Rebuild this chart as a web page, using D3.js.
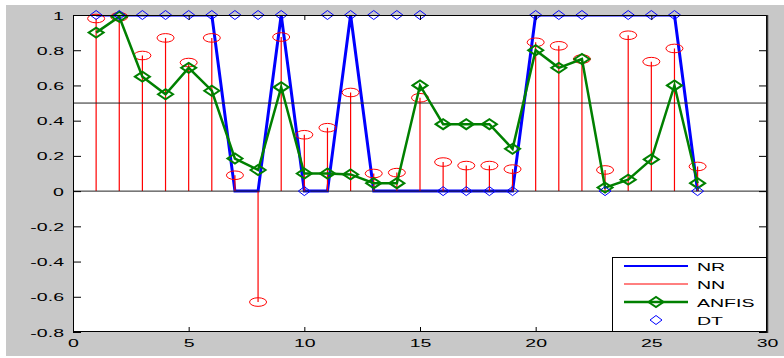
<!DOCTYPE html>
<html><head><meta charset="utf-8">
<script src="https://cdn.jsdelivr.net/npm/d3@7"></script>
<style>body{margin:0;background:#fff}svg{display:block}</style>
</head><body>
<svg id="c" width="784" height="358"></svg>
<script>
const xs    = [1,2,3,4,5,6,7,8,9,10,11,12,13,14,15,16,17,18,19,20,21,22,23,24,25,26,27];
const nr    = [1,1,1,1,1,1,0,0,1,0,0,1,0,0,0,0,0,0,0,1,1,1,1,1,1,1,0];
const nn    = [0.98,0.99,0.77,0.87,0.73,0.87,0.09,-0.63,0.875,0.32,0.36,0.56,0.10,0.105,0.53,0.165,0.145,0.145,0.125,0.845,0.825,0.75,0.12,0.885,0.735,0.81,0.14];
const anfis = [0.90,0.99,0.65,0.55,0.70,0.57,0.185,0.12,0.59,0.10,0.10,0.095,0.045,0.045,0.60,0.38,0.38,0.38,0.24,0.80,0.70,0.75,0.02,0.065,0.18,0.60,0.045];
const dt    = [1,1,1,1,1,1,1,1,1,0,1,1,1,1,1,0,0,0,0,1,1,1,0,1,1,1,0];
const xTicks = [0,5,10,15,20,25,30];
const yTicks = [-0.8,-0.6,-0.4,-0.2,0,0.2,0.4,0.6,0.8,1];
const yTickLabels = ["-0.8","-0.6","-0.4","-0.2","0","0.2","0.4","0.6","0.8","1"];
const refLines = [0,0.5];
const legendNames = ["NR","NN","ANFIS","DT"];

const svg = d3.select("#c");
const L=73,R=767,T=15,B=332;
const x = d3.scaleLinear().domain([0,30]).range([L,R]);
const y = d3.scaleLinear().domain([-0.8,1]).range([B,T]);
const SX = 1.7, FS = "11.5px", FF = "'Liberation Sans', Arial, sans-serif";

svg.append("rect").attr("x",6).attr("y",5).attr("width",778).attr("height",351).attr("fill","#c8c8c8");
svg.append("rect").attr("x",L).attr("y",T).attr("width",R-L).attr("height",B-T).attr("fill","#fff");

svg.append("defs").append("clipPath").attr("id","clip")
  .append("rect").attr("x",L).attr("y",T).attr("width",R-L).attr("height",B-T);

const pts = xs.map((d,i)=>({x:d,nr:nr[i],nn:nn[i],an:anfis[i],dt:dt[i]}));

// NR line
svg.append("path").datum(pts).attr("clip-path","url(#clip)")
  .attr("fill","none").attr("stroke","#0000ff").attr("stroke-width",3)
  .attr("d",d3.line().x(d=>x(d.x)).y(d=>y(d.nr)));

// NN stems
svg.append("g").selectAll("line").data(pts).join("line")
  .attr("x1",d=>x(d.x)).attr("x2",d=>x(d.x)).attr("y1",y(0)).attr("y2",d=>y(d.nn))
  .attr("stroke","#ff0000").attr("stroke-width",1.2);
svg.append("g").selectAll("ellipse").data(pts).join("ellipse")
  .attr("cx",d=>x(d.x)).attr("cy",d=>y(d.nn)).attr("rx",8.5).attr("ry",4.3)
  .attr("fill","none").attr("stroke","#ff0000").attr("stroke-width",1);

// reference lines
svg.append("g").selectAll("line").data(refLines).join("line")
  .attr("x1",L).attr("x2",R).attr("y1",d=>y(d)).attr("y2",d=>y(d))
  .attr("stroke","#222").attr("stroke-width",1);

function diamond(cx,cy,rx,ry){return `M${cx-rx},${cy}L${cx},${cy-ry}L${cx+rx},${cy}L${cx},${cy+ry}Z`;}

// ANFIS
svg.append("path").datum(pts)
  .attr("fill","none").attr("stroke","#008000").attr("stroke-width",2.5)
  .attr("d",d3.line().x(d=>x(d.x)).y(d=>y(d.an)));
svg.append("g").selectAll("path").data(pts).join("path")
  .attr("d",d=>diamond(x(d.x),y(d.an),7.5,5))
  .attr("fill","none").attr("stroke","#008000").attr("stroke-width",2);

// DT
svg.append("g").selectAll("path").data(pts).join("path")
  .attr("d",d=>diamond(x(d.x),y(d.dt),6,4.5))
  .attr("fill","none").attr("stroke","#0000ff").attr("stroke-width",1);

// axes
function styleAxis(g){
  g.select(".domain").remove();
  g.selectAll(".tick line").attr("stroke","#000");
}
const ax = svg.append("g").attr("transform",`translate(0,${B})`)
  .call(d3.axisBottom(x).tickValues(xTicks).tickFormat(d3.format("d")).tickSize(-5).tickPadding(0))
  .call(styleAxis);
ax.selectAll("text").attr("y",null).attr("dy",null)
  .attr("transform","translate(0,15) scale("+SX+",1)")
  .attr("font-size",FS).attr("font-family",FF).attr("fill","#000");
svg.append("g").attr("transform",`translate(0,${T})`)
  .call(d3.axisTop(x).tickValues(xTicks).tickFormat("").tickSize(-5)).call(styleAxis);
const ay = svg.append("g").attr("transform",`translate(${L},0)`)
  .call(d3.axisLeft(y).tickValues(yTicks).tickFormat((d,i)=>yTickLabels[i]).tickSize(-8).tickPadding(0))
  .call(styleAxis);
ay.selectAll("text").attr("x",null).attr("dy",null)
  .attr("transform","translate(-9,4) scale("+SX+",1)")
  .attr("font-size",FS).attr("font-family",FF).attr("fill","#000");
svg.append("g").attr("transform",`translate(${R},0)`)
  .call(d3.axisRight(y).tickValues(yTicks).tickFormat("").tickSize(-8)).call(styleAxis);

svg.append("rect").attr("x",L+0.5).attr("y",T+0.5).attr("width",R-L-1).attr("height",B-T-1)
  .attr("fill","none").attr("stroke","#000").attr("stroke-width",1);
svg.append("line").attr("x1",R+0.5).attr("x2",R+0.5).attr("y1",T).attr("y2",B+1).attr("stroke","#333").attr("stroke-width",1.5);

// legend
const lg = svg.append("g");
lg.append("rect").attr("x",612.5).attr("y",257.5).attr("width",154).attr("height",74)
  .attr("fill","#fff").attr("stroke","#000").attr("stroke-width",1);
const ly = [266,284,302,320];
legendNames.forEach((n,i)=>{
  const yy = ly[i];
  if(i===0) lg.append("line").attr("x1",624).attr("x2",688).attr("y1",yy).attr("y2",yy).attr("stroke","#0000ff").attr("stroke-width",2);
  if(i===1) lg.append("line").attr("x1",624).attr("x2",688).attr("y1",yy).attr("y2",yy).attr("stroke","#ff0000").attr("stroke-width",1);
  if(i===2){
    lg.append("line").attr("x1",624).attr("x2",688).attr("y1",yy).attr("y2",yy).attr("stroke","#008000").attr("stroke-width",2.5);
    lg.append("path").attr("d",diamond(656,yy,7.5,5)).attr("fill","none").attr("stroke","#008000").attr("stroke-width",2);
  }
  if(i===3) lg.append("path").attr("d",diamond(656,yy,6,4.5)).attr("fill","none").attr("stroke","#0000ff").attr("stroke-width",1);
  lg.append("text").attr("transform",`translate(697,${yy+4.5}) scale(${SX},1)`)
    .attr("font-size",FS).attr("font-family",FF).attr("fill","#000").text(n);
});
</script>
</body></html>
